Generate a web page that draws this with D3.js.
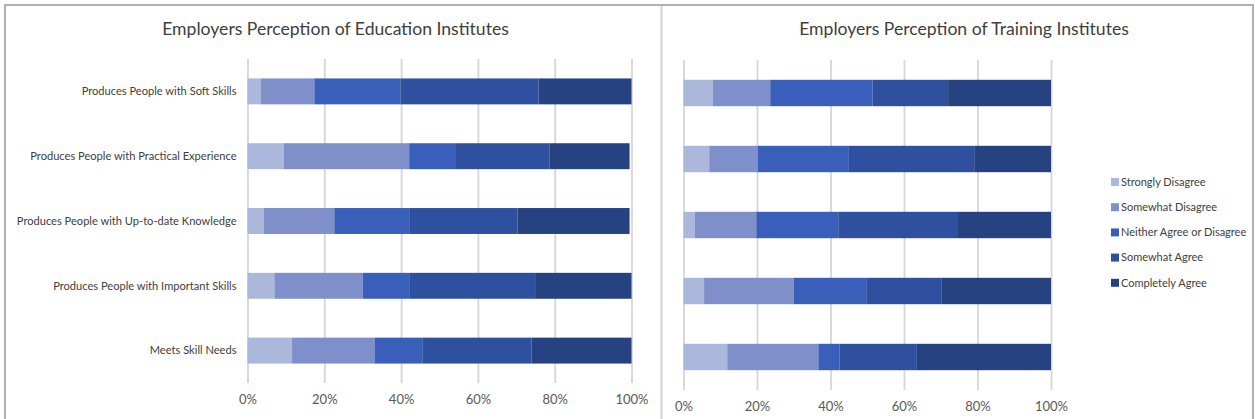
<!DOCTYPE html>
<html>
<head>
<meta charset="utf-8">
<script src="https://cdn.jsdelivr.net/npm/d3@7"></script>
<style>
  html, body { margin: 0; padding: 0; background: #fff; }
  svg { display: block; font-family: Lato, "Open Sans", sans-serif; }
</style>
</head>
<body>
<svg id="chart" width="1255" height="419"></svg>
<script>
// ---- data ----
const categories = [
  "Produces People with Soft Skills",
  "Produces People with Practical Experience",
  "Produces People with Up-to-date Knowledge",
  "Produces People with Important Skills",
  "Meets Skill Needs"
];
const seriesNames = ["Strongly Disagree", "Somewhat Disagree", "Neither Agree or Disagree", "Somewhat Agree", "Completely Agree"];
const seriesColors = ["#abb7db", "#7f8fc9", "#3a5fbb", "#2f509e", "#264280"];
const tickValues = [0, 20, 40, 60, 80, 100];

// Education institutes (percent per category)
const eduStronglyDisagree = [3.4, 9.5, 4.3, 7.0, 11.6];
const eduSomewhatDisagree = [14.0, 32.6, 18.3, 23.0, 21.6];
const eduNeither          = [22.4, 12.2, 19.5, 12.1, 12.3];
const eduSomewhatAgree    = [36.0, 24.3, 28.2, 32.8, 28.5];
const eduCompletelyAgree  = [24.2, 20.9, 29.2, 25.1, 26.0];

// Training institutes
const trnStronglyDisagree = [8.0, 7.0, 3.1, 5.6, 11.9];
const trnSomewhatDisagree = [15.6, 13.2, 16.7, 24.4, 24.8];
const trnNeither          = [27.8, 24.8, 22.3, 19.9, 5.8];
const trnSomewhatAgree    = [20.6, 34.1, 32.6, 20.4, 21.0];
const trnCompletelyAgree  = [28.0, 20.9, 25.3, 29.7, 36.5];

function buildRows(arrs) {
  return categories.map((c, i) => {
    const o = { category: c };
    seriesNames.forEach((s, j) => { o[s] = arrs[j][i]; });
    return o;
  });
}
const eduRows = buildRows([eduStronglyDisagree, eduSomewhatDisagree, eduNeither, eduSomewhatAgree, eduCompletelyAgree]);
const trnRows = buildRows([trnStronglyDisagree, trnSomewhatDisagree, trnNeither, trnSomewhatAgree, trnCompletelyAgree]);

const svg = d3.select("#chart");
const textColor = "#404040";

// frame
svg.append("rect").attr("x", 5).attr("y", 5).attr("width", 1248).attr("height", 440)
  .attr("fill", "none").attr("stroke", "#b0b0b0").attr("stroke-width", 2);
svg.append("line").attr("x1", 661.5).attr("x2", 661.5).attr("y1", 6).attr("y2", 419)
  .attr("stroke", "#d4d4d4").attr("stroke-width", 2);

const color = d3.scaleOrdinal().domain(seriesNames).range(seriesColors);
const stack = d3.stack().keys(seriesNames);

function drawChart(opts) {
  const { rows, title, titleX, x0, x1, y0, y1, showLabels } = opts;
  const g = svg.append("g");
  const x = d3.scaleLinear().domain([0, 100]).range([x0, x1]);
  const y = d3.scaleBand().domain(categories).range([y0, y1]).paddingInner(0.6).paddingOuter(0.3);

  // gridlines + tick labels
  const axis = d3.axisBottom(x).tickValues(tickValues).tickFormat(d => d + "%")
    .tickSize(-(y1 - y0)).tickPadding(12);
  const ag = g.append("g").attr("transform", `translate(0,${y1})`).call(axis);
  ag.select(".domain").remove();
  ag.selectAll(".tick line").attr("stroke", "#d6d6d6").attr("stroke-width", 1.8);
  ag.selectAll(".tick text").attr("fill", "#595959").style("font-size", "13px")
    .style("font-family", "Lato, sans-serif");

  // bars
  const series = stack(rows);
  g.append("g").selectAll("g").data(series).join("g")
    .attr("fill", d => color(d.key))
    .selectAll("rect").data(d => d).join("rect")
    .attr("x", d => x(d[0]))
    .attr("width", d => x(d[1]) - x(d[0]))
    .attr("y", d => y(d.data.category))
    .attr("height", y.bandwidth());

  if (showLabels) {
    g.append("g").selectAll("text").data(categories).join("text")
      .attr("x", x0 - 11)
      .attr("y", d => y(d) + y.bandwidth() / 2)
      .attr("dy", "0.35em")
      .attr("text-anchor", "end")
      .attr("fill", textColor)
      .style("font-size", "11.1px")
      .text(d => d);
  }

  g.append("text").attr("x", titleX).attr("y", 29).attr("dy", "0.35em")
    .attr("text-anchor", "middle").attr("fill", textColor)
    .style("font-size", "17.6px").text(title);
}

drawChart({ rows: eduRows, title: "Employers Perception of Education Institutes", titleX: 335.5,
  x0: 247.5, x1: 631.5, y0: 59, y1: 383, showLabels: true });
drawChart({ rows: trnRows, title: "Employers Perception of Training Institutes", titleX: 964,
  x0: 683.5, x1: 1051, y0: 60, y1: 390, showLabels: false });

// legend
const lg = svg.append("g");
const items = lg.selectAll("g").data(seriesNames).join("g")
  .attr("transform", (d, i) => `translate(1111,${182 + i * 25.2})`);
items.append("rect").attr("x", 0).attr("y", -4).attr("width", 8).attr("height", 8)
  .attr("fill", d => color(d));
items.append("text").attr("x", 10).attr("y", 0).attr("dy", "0.35em")
  .attr("fill", textColor).style("font-size", "11px").text(d => d);
</script>
</body>
</html>
